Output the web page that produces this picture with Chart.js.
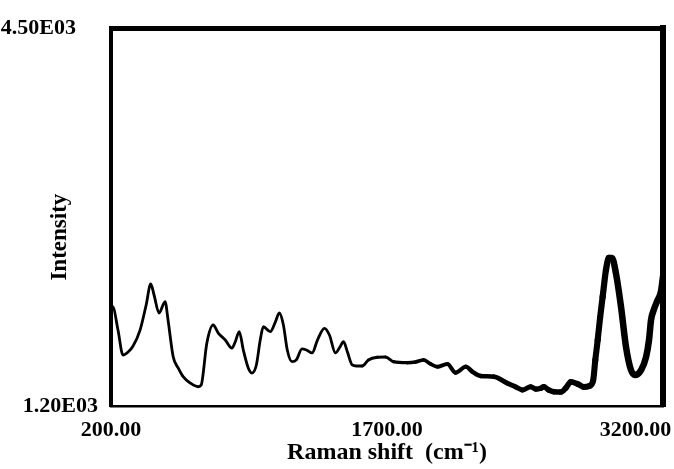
<!DOCTYPE html>
<html lang="en">
<head>
<meta charset="UTF-8">
<title>Raman spectrum</title>
<style>
    body {
        margin: 0;
        background-color: #ffffff;
    }
    canvas {
        display: block;
    }
</style>
<script src="https://cdn.jsdelivr.net/npm/chart.js"></script>
</head>
<body>
<canvas id="ramanChart" width="674" height="469"></canvas>
<script>
    // Raman shift (cm-1) and intensity
    var ramanShift = [200, 209, 238, 265, 293, 320, 358, 391, 416, 434, 461, 494, 510, 538, 565, 592, 630, 674, 690, 721,
        755, 783, 821, 857, 875, 897, 919, 946, 966, 990, 1011, 1028, 1066, 1093, 1115, 1137, 1158, 1184, 1207, 1238,
        1262, 1293, 1322, 1360, 1387, 1420, 1441, 1464, 1485, 1511, 1534, 1565, 1599, 1647, 1692, 1735, 1810, 1855, 1899, 1937,
        1973, 2028, 2073, 2128, 2166, 2209, 2280, 2355, 2400, 2436, 2481, 2509, 2536, 2552, 2579, 2607, 2645, 2672, 2699, 2736,
        2770, 2800, 2820, 2832, 2845, 2858, 2872, 2890, 2906, 2923, 2944, 2972, 2999, 3026, 3048, 3081, 3108, 3124, 3135, 3150,
        3171, 3189, 3200];
    var intensity = [2038, 2067, 1863, 1645, 1671, 1724, 1863, 2082, 2265, 2169, 2012, 2111, 1951, 1630, 1532, 1456, 1401, 1368, 1383, 1750,
        1907, 1837, 1776, 1706, 1759, 1849, 1689, 1532, 1488, 1558, 1776, 1892, 1849, 1933, 2012, 1907, 1689, 1587, 1602, 1698,
        1689, 1663, 1776, 1878, 1820, 1663, 1706, 1761, 1671, 1558, 1549, 1549, 1602, 1625, 1628, 1587, 1578, 1584, 1602, 1567,
        1543, 1567, 1491, 1543, 1497, 1462, 1456, 1398, 1366, 1340, 1368, 1348, 1355, 1368, 1340, 1325, 1322, 1357, 1410, 1392,
        1366, 1375, 1420, 1600, 1776, 1970, 2152, 2387, 2492, 2492, 2361, 2064, 1715, 1514, 1471, 1514, 1628, 1776, 1951, 2040,
        2125, 2200, 2330];

    var xTicks = [200, 1700, 3200];
    var xTickLabels = ['200.00', '1700.00', '3200.00'];
    var yTicks = [1200, 4500];
    var yTickLabels = ['1.20E03', '4.50E03'];

    var points = ramanShift.map(function (x, i) {
        return { x: x, y: intensity[i] };
    });

    var serif = "'Liberation Serif', 'Times New Roman', serif";

    // keep the plot frame where the scan has it
    function noPad(scale) {
        scale.paddingLeft = 0;
        scale.paddingRight = 0;
        scale.paddingTop = 0;
        scale.paddingBottom = 0;
    }

    var ctx = document.getElementById('ramanChart').getContext('2d');
    var ramanChart = new Chart(ctx, {
        type: 'line',
        data: {
            datasets: [{
                data: points,
                borderColor: '#000000',
                borderWidth: 3,
                borderJoinStyle: 'round',
                borderCapStyle: 'round',
                pointRadius: 0,
                cubicInterpolationMode: 'monotone',
                segment: {
                    // the pen trace gets heavier towards high shifts
                    borderWidth: function (c) {
                        var x = c.p0.parsed.x;
                        if (x < 1550) return 2.8;
                        if (x > 2900) return 6.5;
                        return 2.8 + (x - 1550) / 1350 * 3.5;
                    }
                }
            }]
        },
        options: {
            responsive: false,
            animation: false,
            layout: { padding: { left: 0, right: 11, top: 28, bottom: 0 } },
            plugins: {
                legend: { display: false },
                tooltip: { enabled: false }
            },
            scales: {
                x: {
                    type: 'linear',
                    position: 'bottom',
                    min: 200,
                    max: 3200,
                    afterBuildTicks: function (s) {
                        s.ticks = xTicks.map(function (v) { return { value: v }; });
                    },
                    afterFit: function (s) {
                        noPad(s);
                        s.height = 63;
                    },
                    grid: { display: false, drawTicks: false },
                    border: { color: '#000000', width: 2.5 },
                    ticks: {
                        padding: 11,
                        maxRotation: 0,
                        autoSkip: false,
                        color: '#000000',
                        font: { family: serif, size: 22, weight: 'bold' },
                        callback: function (v) {
                            var i = xTicks.indexOf(v);
                            var label = xTickLabels[i];
                            // last label sits left of its tick in the scan
                            return i === xTicks.length - 1 ? label + '          ' : label;
                        }
                    },
                    title: {
                        display: true,
                        text: 'Raman shift  (cm\u207B\u00B9)',
                        color: '#000000',
                        font: { family: serif, size: 24, weight: 'bold' },
                        padding: { top: 0, bottom: 2 }
                    }
                },
                x2: {
                    type: 'linear',
                    position: 'top',
                    min: 200,
                    max: 3200,
                    afterFit: function (s) {
                        noPad(s);
                        s.height = 0;
                    },
                    grid: { display: false, drawTicks: false },
                    ticks: { display: false },
                    border: { color: '#000000', width: 5 }
                },
                y: {
                    type: 'linear',
                    position: 'left',
                    min: 1200,
                    max: 4500,
                    afterBuildTicks: function (s) {
                        s.ticks = yTicks.map(function (v) { return { value: v }; });
                    },
                    afterFit: function (s) {
                        noPad(s);
                        s.width = 111;
                    },
                    grid: { display: false, drawTicks: false },
                    border: { color: '#000000', width: 4 },
                    ticks: {
                        padding: 13,
                        autoSkip: false,
                        color: '#000000',
                        font: { family: serif, size: 22, weight: 'bold' },
                        callback: function (v) {
                            var i = yTicks.indexOf(v);
                            var label = yTickLabels[i];
                            return i === yTicks.length - 1 ? label + '    ' : label;
                        }
                    },
                    title: {
                        display: true,
                        text: 'Intensity       ',
                        color: '#000000',
                        font: { family: serif, size: 23, weight: 'bold' },
                        padding: { top: 46, bottom: 0 }
                    }
                },
                y2: {
                    type: 'linear',
                    position: 'right',
                    min: 1200,
                    max: 4500,
                    afterFit: function (s) {
                        noPad(s);
                        s.width = 0;
                    },
                    grid: { display: false, drawTicks: false },
                    ticks: { display: false },
                    border: { color: '#000000', width: 6 }
                }
            }
        }
    });
</script>
</body>
</html>
